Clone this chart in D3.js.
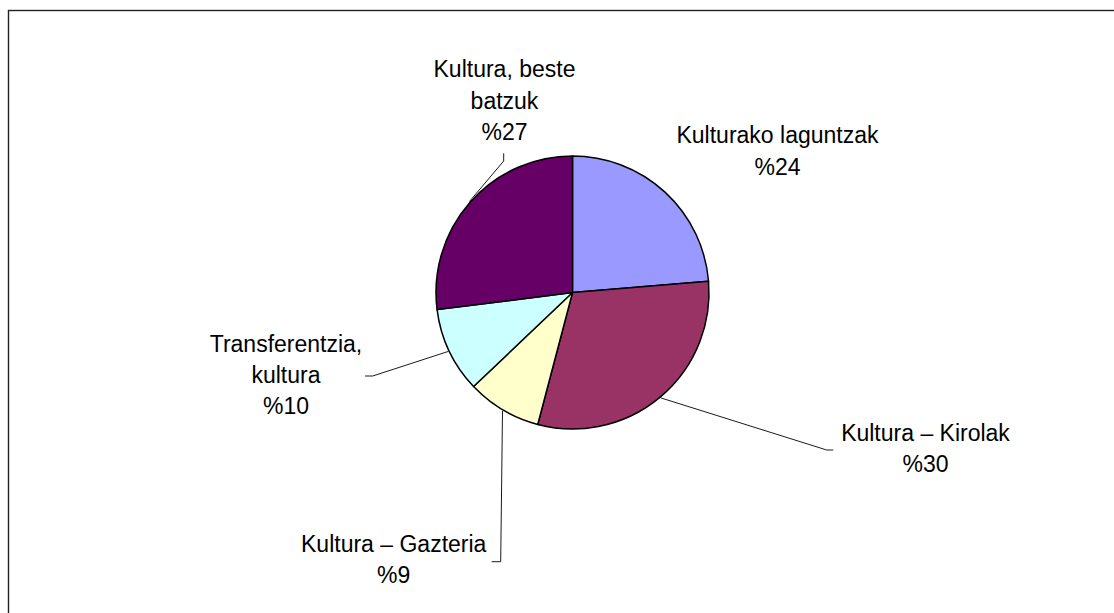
<!DOCTYPE html>
<html>
<head>
<meta charset="utf-8">
<script src="https://cdn.jsdelivr.net/npm/d3@7/dist/d3.min.js"></script>
<style>
  html, body { margin: 0; padding: 0; background: #fff; }
  svg { display: block; }
  text { font-family: "Liberation Sans", Arial, sans-serif; fill: #000; }
</style>
</head>
<body>
<svg id="chart" width="1114" height="613"></svg>
<script>
// ---- data ----
const categories = ["Kulturako laguntzak", "Kultura – Kirolak", "Kultura – Gazteria", "Transferentzia, kultura", "Kultura, beste batzuk"];
const labelLines = [["Kulturako laguntzak"], ["Kultura – Kirolak"], ["Kultura – Gazteria"], ["Transferentzia,", "kultura"], ["Kultura, beste", "batzuk"]];
const values = [23.7, 30.4, 8.8, 10.1, 27.0];
const colors = ["#9999FF", "#993366", "#FFFFCC", "#CCFFFF", "#660066"];

// ---- layout ----
const W = 1114, H = 613;
const cx = 572.5, cy = 292.5, R = 136.5;
const fontSize = 23;
const lineH = 31.3;
// label block: center x, baseline of first line; leader: elbow + end (null = no leader)
const labelLayout = [
  { x: 777.5, y: 143.3, leader: null },
  { x: 925.5, y: 441.0, leader: [[826.7, 450], [833.3, 450]] },
  { x: 393.7, y: 551.7, leader: [[500.7, 561.7], [491.7, 561.7]] },
  { x: 286.0, y: 351.7, leader: [[372.7, 376], [365, 376]] },
  { x: 504.5, y: 77.3, leader: [[503.7, 161], [503.7, 153.3]] }
];

const svg = d3.select("#chart");

// outer frame
svg.append("rect")
  .attr("x", 8.5).attr("y", 10.5)
  .attr("width", W + 20).attr("height", H + 20)
  .attr("fill", "none").attr("stroke", "#222").attr("stroke-width", 1.4);

const total = d3.sum(values);
const pie = d3.pie().sort(null).value(d => d)(values);
const arc = d3.arc().innerRadius(0).outerRadius(R);
const g = svg.append("g").attr("transform", `translate(${cx},${cy})`);

g.selectAll("path.slice").data(pie).join("path")
  .attr("class", "slice")
  .attr("d", arc)
  .attr("fill", (d, i) => colors[i])
  .attr("stroke", "#000")
  .attr("stroke-width", 1.5)
  .attr("stroke-linejoin", "round");

// leader lines
const lineGen = d3.line();
pie.forEach((d, i) => {
  const L = labelLayout[i];
  if (!L.leader) return;
  const a = (d.startAngle + d.endAngle) / 2;
  const start = [cx + Math.sin(a) * (R + 1), cy - Math.cos(a) * (R + 1)];
  svg.append("path")
    .attr("d", lineGen([start, ...L.leader]))
    .attr("fill", "none")
    .attr("stroke", "#000")
    .attr("stroke-width", 0.9);
});

// labels
pie.forEach((d, i) => {
  const L = labelLayout[i];
  const pct = "%" + Math.round(d.data / total * 100);
  const lines = labelLines[i].concat([pct]);
  const t = svg.append("text")
    .attr("text-anchor", "middle")
    .attr("font-size", fontSize);
  lines.forEach((ln, k) => {
    t.append("tspan").attr("x", L.x).attr("y", L.y + k * lineH).text(ln);
  });
});
</script>
</body>
</html>
